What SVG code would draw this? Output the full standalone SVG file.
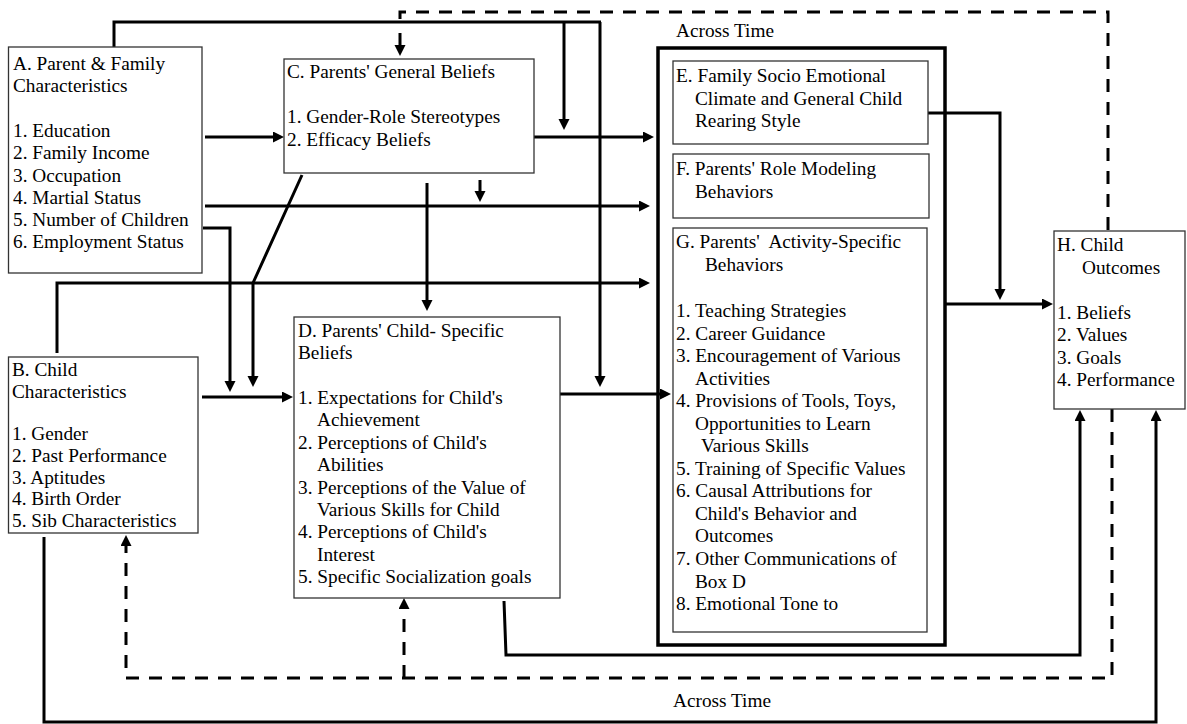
<svg xmlns="http://www.w3.org/2000/svg" width="1187" height="724" viewBox="0 0 1187 724">
<style>
.box{fill:#fff;stroke:#333;stroke-width:1.3}
.thick{fill:none;stroke:#000;stroke-width:3.5}
.t{font-family:"Liberation Serif","Times New Roman",serif;font-size:19.3px;fill:#000}
.c{fill:none;stroke:#000;stroke-width:3}
.d{stroke-dasharray:13 10}
</style>
<defs>
<marker id="ah" markerUnits="userSpaceOnUse" markerWidth="12" markerHeight="12" refX="5" refY="5.5" orient="auto">
<path d="M0,0 L11,5.5 L0,11 z" fill="#000"/>
</marker>
</defs>
<rect width="1187" height="724" fill="#fff"/>

<g id="connectors">
<path class="c" d="M205,137 H278" marker-end="url(#ah)"/>
<path class="c" d="M205,206 H644" marker-end="url(#ah)"/>
<path class="c" d="M480,180 V196" marker-end="url(#ah)"/>
<path class="c" d="M534,137 H648" marker-end="url(#ah)"/>
<path class="c" d="M114,47 V22 H601"/>
<path class="c" d="M564,22 V124" marker-end="url(#ah)"/>
<path class="c" d="M600,22 V381" marker-end="url(#ah)"/>
<path class="c d" d="M1108,230 V12 H400 V22"/>
<path class="c" d="M400,33 V50" marker-end="url(#ah)"/>
<path class="c" d="M203,228 H230 V386" marker-end="url(#ah)"/>
<path class="c" d="M302,175 L253,283 V381" marker-end="url(#ah)"/>
<path class="c" d="M57,353 V283 H644" marker-end="url(#ah)"/>
<path class="c" d="M427,183 V305" marker-end="url(#ah)"/>
<path class="c" d="M202,397 H287" marker-end="url(#ah)"/>
<path class="c" d="M560,394 H665" marker-end="url(#ah)"/>
<path class="c" d="M928,113 H1000 V294" marker-end="url(#ah)"/>
<path class="c" d="M945,304 H1047" marker-end="url(#ah)"/>
<path class="c" d="M504,601 L506,655 H1080 V416" marker-end="url(#ah)"/>
<path class="c d" d="M1112,409 V678 H126 V541" marker-end="url(#ah)"/>
<path class="c d" d="M404,678 V604" marker-end="url(#ah)"/>
<path class="c" d="M44,537 V722 H1156 V416" marker-end="url(#ah)"/>
</g>

<g id="across-time">
<rect class="thick" x="658" y="48" width="287" height="597"/>
<text class="t" x="676" y="37">Across Time</text>
<text class="t" x="673" y="707">Across Time</text>
</g>

<g id="nodeA">
<rect class="box" x="8.5" y="47" width="193.5" height="226"/>
<text class="t" x="13" y="70">A. Parent &amp; Family</text>
<text class="t" x="13" y="92.3">Characteristics</text>
<text class="t" x="13" y="136.9">1. Education</text>
<text class="t" x="13" y="159.2">2. Family Income</text>
<text class="t" x="13" y="181.5">3. Occupation</text>
<text class="t" x="13" y="203.8">4. Martial Status</text>
<text class="t" x="13" y="226.1">5. Number of Children</text>
<text class="t" x="13" y="248.4">6. Employment Status</text>
</g>

<g id="nodeB">
<rect class="box" x="8.5" y="357" width="189.5" height="176"/>
<text class="t" x="12" y="376">B. Child</text>
<text class="t" x="12" y="397.5">Characteristics</text>
<text class="t" x="12" y="439.5">1. Gender</text>
<text class="t" x="12" y="461.5">2. Past Performance</text>
<text class="t" x="12" y="483.5">3. Aptitudes</text>
<text class="t" x="12" y="505">4. Birth Order</text>
<text class="t" x="12" y="527">5. Sib Characteristics</text>
</g>

<g id="nodeC">
<rect class="box" x="284" y="59" width="250" height="114"/>
<text class="t" x="287" y="78">C. Parents' General Beliefs</text>
<text class="t" x="287" y="123">1. Gender-Role Stereotypes</text>
<text class="t" x="287" y="145.5">2. Efficacy Beliefs</text>
</g>

<g id="nodeD">
<rect class="box" x="294" y="317" width="266" height="281"/>
<text class="t" x="298" y="337">D. Parents' Child- Specific</text>
<text class="t" x="298" y="359.4">Beliefs</text>
<text class="t" x="298" y="404.1">1. Expectations for Child's</text>
<text class="t" x="317" y="426.4">Achievement</text>
<text class="t" x="298" y="448.8">2. Perceptions of Child's</text>
<text class="t" x="317" y="471.2">Abilities</text>
<text class="t" x="298" y="493.5">3. Perceptions of the Value of</text>
<text class="t" x="317" y="515.9">Various Skills for Child</text>
<text class="t" x="298" y="538.2">4. Perceptions of Child's</text>
<text class="t" x="317" y="560.6">Interest</text>
<text class="t" x="298" y="583">5. Specific Socialization goals</text>
</g>

<g id="nodeE">
<rect class="box" x="673" y="61" width="255" height="83"/>
<text class="t" x="676" y="82">E. Family Socio Emotional</text>
<text class="t" x="695" y="104.5">Climate and General Child</text>
<text class="t" x="695" y="127">Rearing Style</text>
</g>

<g id="nodeF">
<rect class="box" x="673" y="154" width="256" height="64"/>
<text class="t" x="676" y="175">F. Parents' Role Modeling</text>
<text class="t" x="695" y="197.5">Behaviors</text>
</g>

<g id="nodeG">
<rect class="box" x="673" y="228" width="254" height="404"/>
<text class="t" x="676" y="248" xml:space="preserve">G. Parents'  Activity-Specific</text>
<text class="t" x="705" y="270.5">Behaviors</text>
<text class="t" x="676" y="317">1. Teaching Strategies</text>
<text class="t" x="676" y="339.5">2. Career Guidance</text>
<text class="t" x="676" y="362.1">3. Encouragement of Various</text>
<text class="t" x="695" y="384.6">Activities</text>
<text class="t" x="676" y="407.2">4. Provisions of Tools, Toys,</text>
<text class="t" x="695" y="429.7">Opportunities to Learn</text>
<text class="t" x="701" y="452.2">Various Skills</text>
<text class="t" x="676" y="474.8">5. Training of Specific Values</text>
<text class="t" x="676" y="497.3">6. Causal Attributions for</text>
<text class="t" x="695" y="519.9">Child's Behavior and</text>
<text class="t" x="695" y="542.4">Outcomes</text>
<text class="t" x="676" y="564.9">7. Other Communications of</text>
<text class="t" x="695" y="587.5">Box D</text>
<text class="t" x="676" y="610">8. Emotional Tone to</text>
</g>

<g id="nodeH">
<rect class="box" x="1054" y="231" width="131" height="178"/>
<text class="t" x="1057" y="251">H. Child</text>
<text class="t" x="1082" y="273.5">Outcomes</text>
<text class="t" x="1057" y="318.5">1. Beliefs</text>
<text class="t" x="1057" y="341">2. Values</text>
<text class="t" x="1057" y="363.5">3. Goals</text>
<text class="t" x="1057" y="386">4. Performance</text>
</g>
</svg>
